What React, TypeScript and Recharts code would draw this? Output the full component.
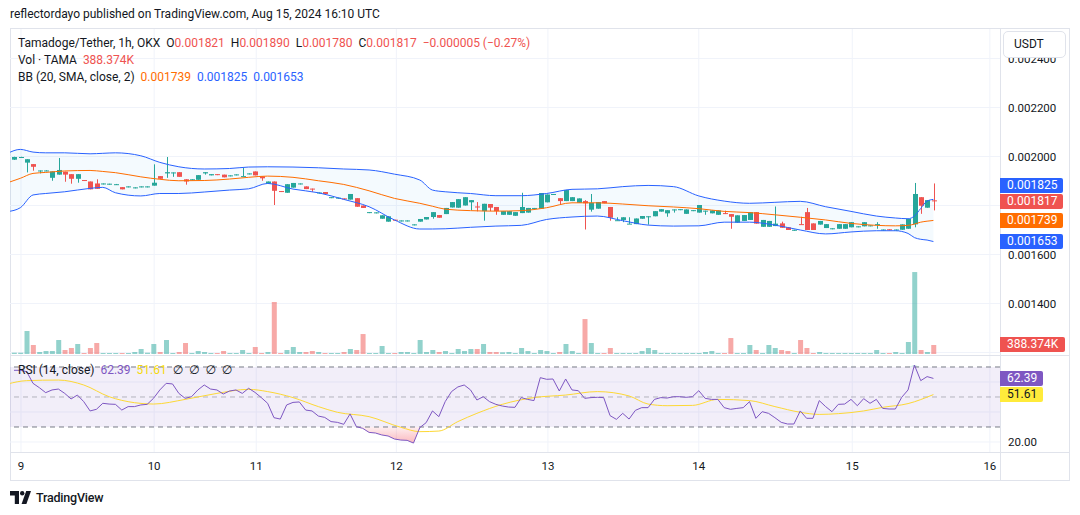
import {
  ComposedChart,
  Bar,
  Line,
  Area,
  Cell,
  XAxis,
  YAxis,
  CartesianGrid,
  ReferenceLine,
  ReferenceArea,
} from "recharts";

const FONT = "Roboto, 'Noto Sans', 'DejaVu Sans', sans-serif";
const TEXT = "#131722";
const UP = "#26a69a";
const DOWN = "#ef5350";
const VOL_UP = "rgba(38,166,154,0.5)";
const VOL_DOWN = "rgba(239,83,80,0.5)";
const BB_BAND = "#2962ff";
const BB_BASIS = "#ff6d00";
const RSI_COLOR = "#7e57c2";
const RSI_MA_COLOR = "#fdd835";
const GRID = "#f0f3fa";
const BORDER = "#e0e3eb";

// hourly candles [open, high, low, close], price in 1e-6 USDT
const ohlc: [number, number, number, number][] = [
  [1987, 1999, 1986, 1998], [1998, 1999, 1997, 1998], [1975, 1989, 1935, 1989], [1969, 1969, 1942, 1958],
  [1942, 1943, 1931, 1943], [1943, 1944, 1942, 1943], [1913, 1939, 1901, 1939], [1926, 1994, 1926, 1945],
  [1938, 1938, 1897, 1926], [1928, 1928, 1889, 1909], [1909, 1928, 1893, 1928], [1904, 1904, 1901, 1902],
  [1898, 1898, 1866, 1866], [1890, 1907, 1868, 1868], [1889, 1890, 1889, 1890], [1889, 1889, 1888, 1889],
  [1887, 1888, 1886, 1887], [1875, 1875, 1866, 1866], [1877, 1878, 1877, 1878], [1873, 1874, 1873, 1874],
  [1875, 1878, 1875, 1878], [1878, 1878, 1877, 1878], [1881, 1968, 1881, 1893], [1920, 1920, 1909, 1909],
  [1931, 1998, 1913, 1936], [1934, 1935, 1917, 1935], [1936, 1936, 1917, 1917], [1907, 1907, 1885, 1898],
  [1906, 1907, 1906, 1907], [1905, 1924, 1905, 1924], [1931, 1936, 1926, 1936], [1923, 1928, 1923, 1928],
  [1928, 1928, 1926, 1926], [1926, 1926, 1915, 1915], [1922, 1923, 1922, 1923], [1925, 1927, 1925, 1927],
  [1919, 1953, 1919, 1920], [1930, 1931, 1930, 1931], [1939, 1939, 1923, 1923], [1919, 1919, 1901, 1911],
  [1889, 1898, 1889, 1898], [1898, 1898, 1802, 1860], [1859, 1859, 1856, 1856], [1852, 1887, 1852, 1887],
  [1873, 1892, 1873, 1892], [1889, 1890, 1889, 1890], [1878, 1878, 1867, 1867], [1869, 1869, 1856, 1867],
  [1852, 1853, 1852, 1853], [1855, 1855, 1847, 1847], [1833, 1834, 1833, 1834], [1831, 1832, 1831, 1832],
  [1829, 1829, 1826, 1826], [1824, 1847, 1824, 1847], [1830, 1830, 1795, 1795], [1800, 1800, 1790, 1790],
  [1772, 1773, 1772, 1773], [1771, 1772, 1771, 1772], [1746, 1760, 1746, 1760], [1734, 1756, 1734, 1756],
  [1742, 1742, 1740, 1740], [1738, 1739, 1738, 1739], [1738, 1739, 1738, 1739], [1722, 1723, 1722, 1723],
  [1734, 1745, 1734, 1745], [1743, 1753, 1743, 1753], [1753, 1773, 1746, 1773], [1761, 1761, 1750, 1750],
  [1765, 1790, 1765, 1790], [1792, 1814, 1792, 1814], [1791, 1826, 1791, 1826], [1800, 1834, 1800, 1834],
  [1813, 1822, 1781, 1822], [1796, 1814, 1776, 1794], [1777, 1807, 1738, 1807], [1806, 1806, 1777, 1791],
  [1794, 1794, 1762, 1777], [1762, 1777, 1762, 1777], [1762, 1777, 1762, 1777], [1758, 1773, 1758, 1773],
  [1769, 1852, 1769, 1794], [1771, 1790, 1771, 1790], [1789, 1790, 1789, 1790], [1787, 1851, 1787, 1851],
  [1813, 1845, 1813, 1845], [1846, 1847, 1846, 1847], [1830, 1830, 1805, 1818], [1818, 1863, 1818, 1863],
  [1818, 1834, 1818, 1834], [1811, 1829, 1811, 1829], [1818, 1822, 1702, 1809], [1783, 1847, 1775, 1811],
  [1787, 1814, 1787, 1814], [1818, 1818, 1809, 1809], [1794, 1794, 1738, 1750], [1739, 1752, 1739, 1740],
  [1741, 1752, 1732, 1752], [1725, 1752, 1725, 1726], [1724, 1747, 1724, 1747], [1746, 1757, 1746, 1757],
  [1755, 1756, 1722, 1756], [1756, 1777, 1756, 1777], [1775, 1785, 1775, 1785], [1768, 1781, 1754, 1781],
  [1783, 1784, 1771, 1784], [1784, 1785, 1784, 1785], [1766, 1784, 1766, 1784], [1780, 1781, 1780, 1781],
  [1771, 1802, 1771, 1802], [1778, 1779, 1762, 1779], [1768, 1780, 1768, 1780], [1762, 1780, 1762, 1780],
  [1769, 1779, 1765, 1765], [1765, 1765, 1705, 1754], [1730, 1760, 1730, 1760], [1737, 1761, 1737, 1761],
  [1741, 1773, 1741, 1773], [1773, 1773, 1726, 1726], [1713, 1741, 1713, 1741], [1713, 1737, 1713, 1737],
  [1716, 1796, 1716, 1726], [1727, 1734, 1709, 1709], [1711, 1711, 1700, 1700], [1700, 1701, 1700, 1701],
  [1724, 1754, 1722, 1722], [1773, 1790, 1700, 1700], [1727, 1727, 1700, 1700], [1722, 1737, 1722, 1737],
  [1708, 1724, 1708, 1724], [1706, 1707, 1706, 1707], [1705, 1724, 1705, 1724], [1705, 1724, 1705, 1724],
  [1711, 1732, 1711, 1732], [1714, 1715, 1714, 1715], [1715, 1732, 1715, 1732], [1718, 1719, 1718, 1719],
  [1723, 1732, 1705, 1724], [1701, 1702, 1701, 1702], [1703, 1703, 1702, 1702], [1701, 1702, 1701, 1702],
  [1701, 1723, 1701, 1723], [1705, 1745, 1705, 1745], [1723, 1892, 1711, 1847], [1834, 1834, 1766, 1799],
  [1791, 1822, 1791, 1822], [1821, 1890, 1780, 1817],
];

// volume per candle, thousands of TAMA
const volumeK = [
  56, 56, 990, 388, 86, 129, 129, 602, 172, 258, 430, 43, 258, 473, 43, 43, 43, 43, 43, 86,
  215, 56, 430, 86, 602, 43, 86, 473, 43, 129, 86, 43, 43, 129, 43, 43, 172, 43, 301, 43,
  86, 2240, 43, 172, 301, 86, 86, 129, 86, 43, 43, 43, 86, 215, 172, 860, 43, 43, 344, 43,
  43, 86, 86, 43, 602, 86, 172, 86, 129, 43, 215, 129, 215, 215, 430, 86, 86, 73, 86, 43,
  258, 129, 43, 172, 129, 43, 86, 430, 129, 43, 1505, 473, 43, 43, 258, 43, 43, 43, 43, 129,
  258, 172, 43, 43, 43, 43, 43, 43, 43, 86, 129, 43, 43, 688, 43, 43, 388, 172, 43, 388,
  258, 172, 129, 43, 602, 258, 43, 86, 43, 43, 43, 43, 43, 43, 43, 43, 172, 43, 43, 86,
  43, 516, 3530, 172, 86, 388.374,
];

// RSI(14) per candle
const rsiValues = [
  67.8, 67.8, 66.9, 59.1, 56.2, 52.9, 54.7, 55.3, 52.4, 48.7, 51.3, 46.9, 40.7, 41.8, 45.8, 45.3,
  45.1, 41.3, 43.6, 43.6, 44.7, 45.1, 49.1, 54.7, 59.1, 58.7, 52.4, 49.1, 50.2, 54.7, 58.0, 55.3,
  54.7, 52.0, 54.0, 54.7, 52.4, 55.8, 53.1, 49.6, 45.8, 36.2, 35.3, 44.7, 46.4, 46.7, 41.3, 40.7,
  37.3, 36.4, 33.6, 33.1, 31.8, 38.7, 30.2, 29.1, 26.4, 26.0, 24.7, 24.0, 22.0, 21.3, 21.1, 19.3,
  29.6, 32.9, 40.7, 36.9, 46.9, 53.6, 56.7, 58.0, 54.7, 48.0, 50.2, 46.9, 45.1, 44.0, 43.3, 43.1,
  49.6, 48.4, 47.6, 62.9, 61.8, 62.0, 54.0, 62.0, 54.7, 54.2, 49.1, 49.6, 49.8, 49.6, 37.6, 35.1,
  39.1, 35.3, 41.1, 42.9, 42.9, 48.4, 49.6, 49.3, 50.2, 50.2, 49.8, 50.2, 54.2, 49.1, 48.4, 48.4,
  42.9, 41.8, 42.4, 42.9, 46.9, 35.8, 40.2, 39.1, 36.2, 33.1, 32.0, 32.0, 40.7, 35.8, 35.8, 47.6,
  43.6, 40.2, 45.1, 45.3, 48.4, 44.2, 48.9, 45.8, 48.4, 42.4, 42.0, 42.0, 49.8, 54.7, 71.3, 60.9,
  63.6, 62.39,
];

// Bollinger Bands (20, 2) read at these candle positions, price in 1e-6 USDT
const bbAt = [-1, 1, 3, 5, 8, 12, 14, 16, 20, 23, 26, 30, 34, 37, 40, 44, 48, 52, 56, 60, 64, 66, 68, 72, 76, 80, 84, 88, 92, 96, 100, 104, 108, 112, 116, 120, 124, 128, 132, 136, 139, 141, 142, 143, 144, 145];
const bbUpper = [2013, 2029, 2018, 2015, 2015, 2011, 2013, 2015, 2003, 1976, 1958, 1949, 1951, 1957, 1958, 1957, 1954, 1949, 1945, 1928, 1904, 1863, 1856, 1849, 1840, 1840, 1849, 1866, 1868, 1877, 1882, 1877, 1839, 1818, 1809, 1813, 1817, 1795, 1776, 1757, 1749, 1746, 1757, 1788, 1818, 1825];
const bbBasis = [1893, 1911, 1931, 1935, 1941, 1943, 1939, 1934, 1917, 1907, 1901, 1902, 1908, 1915, 1920, 1915, 1901, 1886, 1860, 1829, 1809, 1797, 1785, 1779, 1777, 1779, 1791, 1811, 1811, 1806, 1799, 1794, 1787, 1776, 1771, 1762, 1752, 1741, 1727, 1719, 1717, 1719, 1724, 1732, 1736, 1739];
const bbLower = [1775, 1791, 1843, 1849, 1856, 1870, 1874, 1852, 1839, 1849, 1849, 1855, 1863, 1868, 1890, 1867, 1852, 1825, 1795, 1741, 1704, 1704, 1705, 1711, 1716, 1719, 1743, 1753, 1757, 1738, 1720, 1716, 1717, 1732, 1732, 1720, 1700, 1684, 1692, 1697, 1697, 1686, 1669, 1662, 1659, 1653];

// RSI-based MA (14)
const rsiMaAt = [-1, 2, 7, 11, 15, 19, 22, 27, 32, 37, 40, 44, 48, 51, 56, 61, 64, 67, 70, 73, 77, 82, 87, 92, 97, 100, 103, 107, 111, 116, 120, 124, 127, 130, 134, 137, 141, 145];
const rsiMa = [58.7, 60.9, 61.3, 58.0, 50.2, 46.2, 45.3, 48.4, 52.4, 55.1, 53.6, 49.6, 43.6, 39.8, 36.9, 29.8, 26.9, 27.3, 33.6, 39.1, 45.1, 49.6, 51.3, 53.6, 50.7, 45.3, 44.2, 44.4, 48.4, 47.6, 43.6, 39.8, 38.4, 38.9, 40.7, 43.1, 45.6, 51.61];

const dayTicks = [1.1, 22.1, 38.2, 60.3, 84.2, 108, 132.2, 153.9];
const dayLabels = ["9", "10", "11", "12", "13", "14", "15", "16"];
// 0.001800 sits under the value labels, so it only gets a grid line
const priceTicks = [0.0014, 0.0016, 0.002, 0.0022, 0.0024];
const priceGrid = [0.0012, 0.0014, 0.0016, 0.0018, 0.002, 0.0022, 0.0024];

// layout
const LEFT = 10;
const PLOT_W = 990;
const AXIS_W = 70;
const MAIN_TOP = 29;
const MAIN_H = 326;
const VOL_H = 325;
const RSI_TOP = 356;
const RSI_H = 96;
const TIME_H = 29;
const X_DOMAIN: [number, number] = [-0.63, 155.5];
const PRICE_DOMAIN: [number, number] = [0.0011898, 0.00252041];
const RSI_DOMAIN: [number, number] = [13.333, 77.333];
const VOL_MAX = 14000;

const micro = (v: number) => v / 1e6;

const priceRows = new Map<number, any>();
const rowAt = (i: number) => {
  if (!priceRows.has(i)) priceRows.set(i, { i });
  return priceRows.get(i);
};
ohlc.forEach(([o, h, l, c], i) => {
  Object.assign(rowAt(i), { o: micro(o), h: micro(h), l: micro(l), c: micro(c), range: [micro(l), micro(h)] });
});
bbAt.forEach((i, k) => {
  Object.assign(rowAt(i), {
    bbUp: micro(bbUpper[k]),
    bbMid: micro(bbBasis[k]),
    bbLo: micro(bbLower[k]),
    band: [micro(bbLower[k]), micro(bbUpper[k])],
  });
});
const priceData = [...priceRows.values()].sort((a, b) => a.i - b.i);

const volData = volumeK.map((v, i) => ({ i, v, up: ohlc[i][3] >= ohlc[i][0] }));

const rsiRows = new Map<number, any>();
const rsiRowAt = (i: number) => {
  if (!rsiRows.has(i)) rsiRows.set(i, { i });
  return rsiRows.get(i);
};
rsiValues.forEach((v, i) => (rsiRowAt(i).rsi = v));
rsiMaAt.forEach((i, k) => (rsiRowAt(i).ma = rsiMa[k]));
const rsiData = [...rsiRows.values()].sort((a, b) => a.i - b.i);

const priceY = (p: number) =>
  MAIN_TOP + ((PRICE_DOMAIN[1] - p) / (PRICE_DOMAIN[1] - PRICE_DOMAIN[0])) * MAIN_H;
const rsiY = (v: number) => RSI_TOP + ((RSI_DOMAIN[1] - v) / (RSI_DOMAIN[1] - RSI_DOMAIN[0])) * RSI_H;
const volY = (v: number) => MAIN_TOP + VOL_H - (v / VOL_MAX) * VOL_H;

function Candle(props: any) {
  const { x, y, width, height, payload } = props;
  if (!payload || payload.o == null) return null;
  const { o, h, l, c } = payload;
  const color = c >= o ? UP : DOWN;
  const span = h - l;
  const toY = (p: number) => (span === 0 ? y : y + ((h - p) / span) * height);
  const top = toY(Math.max(o, c));
  const bottom = toY(Math.min(o, c));
  const cx = Math.round(x + width / 2) + 0.5;
  return (
    <g>
      <line x1={cx} x2={cx} y1={y} y2={y + Math.max(height, 1)} stroke={color} strokeWidth={1} />
      <rect x={cx - 2.5} y={top} width={5} height={Math.max(1, bottom - top)} fill={color} />
    </g>
  );
}

function Tag({ y, text, bg, color = "#fff", width = 63 }: any) {
  return (
    <div
      style={{
        position: "absolute",
        left: 1000,
        top: y - 7.5,
        width,
        height: 15,
        lineHeight: "15px",
        background: bg,
        color,
        fontSize: 12,
        paddingLeft: 7,
        boxSizing: "border-box",
        borderRadius: "0 2px 2px 0",
      }}
    >
      {text}
    </div>
  );
}

const last = ohlc[ohlc.length - 1];
const prev = ohlc[ohlc.length - 2];
const fmt = (v: number) => micro(v).toFixed(6);
const change = last[3] - prev[3];
const changePct = (change / prev[3]) * 100;
const minus = (s: string) => s.replace("-", "\u2212");

export default function App() {
  const lastIdx = bbAt.length - 1;
  const lastUp = last[3] >= last[0];
  const tagList = [
    { v: micro(bbLower[lastIdx]), bg: BB_BAND },
    { v: micro(bbBasis[lastIdx]), bg: BB_BASIS },
    { v: micro(last[3]), bg: lastUp ? UP : DOWN },
    { v: micro(bbUpper[lastIdx]), bg: BB_BAND },
  ];
  // stack price labels upward so they never overlap
  let prevY = Infinity;
  const placedTags = tagList.map((t) => {
    const y = Math.min(priceY(t.v), prevY - 16);
    prevY = y;
    return { ...t, y };
  });
  const lastVol = volumeK[volumeK.length - 1];
  const lastRsi = rsiValues[rsiValues.length - 1];
  const lastMa = rsiMa[rsiMa.length - 1];
  const legendColor = lastUp ? UP : DOWN;

  return (
    <div
      style={{
        position: "absolute",
        left: 0,
        top: 0,
        width: 1080,
        height: 515,
        background: "#fff",
        fontFamily: FONT,
        color: TEXT,
        overflow: "hidden",
      }}
    >
      <div style={{ position: "absolute", left: 10, top: 7, fontSize: 12, color: "#131722" }}>
        reflectordayo published on TradingView.com, Aug 15, 2024 16:10 UTC
      </div>

      {/* frame and pane separators */}
      <div style={{ position: "absolute", left: 10, top: 28, width: 1060, height: 453, border: `1px solid ${BORDER}`, boxSizing: "border-box" }} />
      <div style={{ position: "absolute", left: 10, top: 355, width: 1060, height: 1, background: BORDER }} />
      <div style={{ position: "absolute", left: 10, top: 452, width: 1060, height: 1, background: BORDER }} />
      <div style={{ position: "absolute", left: 1000, top: 28, width: 1, height: 453, background: BORDER }} />

      {/* price pane */}
      <div style={{ position: "absolute", left: LEFT, top: MAIN_TOP }}>
        <ComposedChart width={PLOT_W + AXIS_W} height={MAIN_H} data={priceData} margin={{ top: 0, right: 0, bottom: 0, left: 0 }}>
          <CartesianGrid stroke={GRID} horizontalValues={priceGrid} verticalValues={dayTicks} />
          <XAxis type="number" dataKey="i" domain={X_DOMAIN} allowDataOverflow hide />
          <YAxis
            orientation="right"
            type="number"
            domain={PRICE_DOMAIN}
            allowDataOverflow
            ticks={priceTicks}
            interval={0}
            width={AXIS_W}
            axisLine={false}
            tickLine={false}
            tickSize={0}
            tickMargin={8}
            tick={{ fontSize: 11.5, fill: TEXT, fontFamily: FONT }}
            tickFormatter={(v: number) => v.toFixed(6)}
          />
          <Area dataKey="band" type="monotone" connectNulls stroke="none" fill="#2196f3" fillOpacity={0.05} isAnimationActive={false} />
          <Line dataKey="bbUp" type="monotone" connectNulls dot={false} stroke={BB_BAND} strokeWidth={1} isAnimationActive={false} />
          <Line dataKey="bbLo" type="monotone" connectNulls dot={false} stroke={BB_BAND} strokeWidth={1} isAnimationActive={false} />
          <Line dataKey="bbMid" type="monotone" connectNulls dot={false} stroke={BB_BASIS} strokeWidth={1} isAnimationActive={false} />
          <Bar dataKey="range" barSize={5} shape={Candle} isAnimationActive={false} />
        </ComposedChart>
      </div>

      {/* volume overlay */}
      <div style={{ position: "absolute", left: LEFT, top: MAIN_TOP }}>
        <ComposedChart width={PLOT_W} height={VOL_H} data={volData} margin={{ top: 0, right: 0, bottom: 0, left: 0 }}>
          <XAxis type="number" dataKey="i" domain={X_DOMAIN} allowDataOverflow hide />
          <YAxis hide type="number" domain={[0, VOL_MAX]} allowDataOverflow />
          <Bar dataKey="v" barSize={5} isAnimationActive={false}>
            {volData.map((d) => (
              <Cell key={d.i} fill={d.up ? VOL_UP : VOL_DOWN} />
            ))}
          </Bar>
        </ComposedChart>
      </div>

      {/* RSI pane with time axis */}
      <div style={{ position: "absolute", left: LEFT, top: RSI_TOP }}>
        <ComposedChart width={PLOT_W + AXIS_W} height={RSI_H + TIME_H} data={rsiData} margin={{ top: 0, right: 0, bottom: 0, left: 0 }}>
          <defs>
            <linearGradient id="oversold" x1="0" y1="0" x2="0" y2="1">
              <stop offset="0%" stopColor="#f23645" stopOpacity={0.08} />
              <stop offset="100%" stopColor="#f23645" stopOpacity={0.35} />
            </linearGradient>
            <linearGradient id="overbought" x1="0" y1="1" x2="0" y2="0">
              <stop offset="0%" stopColor="#089981" stopOpacity={0.08} />
              <stop offset="100%" stopColor="#089981" stopOpacity={0.35} />
            </linearGradient>
          </defs>
          <CartesianGrid stroke={GRID} horizontalValues={[20, 40, 60]} verticalValues={dayTicks} />
          <ReferenceArea y1={30} y2={70} fill={RSI_COLOR} fillOpacity={0.1} stroke="none" />
          <XAxis
            type="number"
            dataKey="i"
            domain={X_DOMAIN}
            allowDataOverflow
            ticks={dayTicks}
            interval={0}
            height={TIME_H}
            axisLine={false}
            tickLine={false}
            tickSize={0}
            tickMargin={10}
            tick={{ fontSize: 11.5, fill: TEXT, fontFamily: FONT }}
            tickFormatter={(v: number) => dayLabels[dayTicks.indexOf(v)] ?? ""}
          />
          <YAxis
            orientation="right"
            type="number"
            domain={RSI_DOMAIN}
            allowDataOverflow
            ticks={[20]}
            interval={0}
            width={AXIS_W}
            axisLine={false}
            tickLine={false}
            tickSize={0}
            tickMargin={8}
            tick={{ fontSize: 11.5, fill: TEXT, fontFamily: FONT }}
            tickFormatter={(v: number) => v.toFixed(2)}
          />
          <ReferenceLine y={70} stroke="#787b86" strokeDasharray="5 4" />
          <ReferenceLine y={50} stroke="#787b86" strokeOpacity={0.5} strokeDasharray="5 4" />
          <ReferenceLine y={30} stroke="#787b86" strokeDasharray="5 4" />
          <Area
            dataKey={(d: any) => (d.rsi == null ? null : [Math.min(d.rsi, 30), 30])}
            type="linear"
            connectNulls
            stroke="none"
            fill="url(#oversold)"
            fillOpacity={1}
            isAnimationActive={false}
          />
          <Area
            dataKey={(d: any) => (d.rsi == null ? null : [70, Math.max(d.rsi, 70)])}
            type="linear"
            connectNulls
            stroke="none"
            fill="url(#overbought)"
            fillOpacity={1}
            isAnimationActive={false}
          />
          <Line dataKey="ma" type="monotone" connectNulls dot={false} stroke={RSI_MA_COLOR} strokeWidth={1} isAnimationActive={false} />
          <Line dataKey="rsi" type="linear" connectNulls dot={false} stroke={RSI_COLOR} strokeWidth={1} isAnimationActive={false} />
        </ComposedChart>
      </div>

      {/* legends */}
      <div style={{ position: "absolute", left: 18, top: 35, fontSize: 12, lineHeight: "17px", whiteSpace: "pre" }}>
        <div>
          Tamadoge/Tether, 1h, OKX{"  "}O<span style={{ color: legendColor }}>{fmt(last[0])}</span>{"  "}H
          <span style={{ color: legendColor }}>{fmt(last[1])}</span>{"  "}L
          <span style={{ color: legendColor }}>{fmt(last[2])}</span>{"  "}C
          <span style={{ color: legendColor }}>{fmt(last[3])}</span>{"  "}
          <span style={{ color: legendColor }}>
            {minus(micro(change).toFixed(6))} ({minus(changePct.toFixed(2))}%)
          </span>
        </div>
        <div>
          Vol · TAMA{"  "}<span style={{ color: legendColor }}>{lastVol.toFixed(3)}K</span>
        </div>
        <div>
          BB (20, SMA, close, 2){"  "}
          <span style={{ color: BB_BASIS }}>{fmt(bbBasis[lastIdx])}</span>{"  "}
          <span style={{ color: BB_BAND }}>{fmt(bbUpper[lastIdx])}</span>{"  "}
          <span style={{ color: BB_BAND }}>{fmt(bbLower[lastIdx])}</span>
        </div>
      </div>
      <div style={{ position: "absolute", left: 18, top: 363, fontSize: 12, lineHeight: "15px", whiteSpace: "pre" }}>
        RSI (14, close){"  "}
        <span style={{ color: RSI_COLOR }}>{lastRsi.toFixed(2)}</span>{"  "}
        <span style={{ color: "#f5d90a" }}>{lastMa.toFixed(2)}</span>{"  "}∅  ∅  ∅  ∅
      </div>

      {/* axis labels */}
      <div
        style={{
          position: "absolute",
          left: 1003,
          top: 31,
          width: 63,
          height: 27,
          border: `1px solid ${BORDER}`,
          borderRadius: 5,
          background: "#fff",
          boxSizing: "border-box",
          fontSize: 12,
          lineHeight: "25px",
          paddingLeft: 10,
        }}
      >
        USDT
      </div>
      {placedTags.map((t) => (
        <Tag key={t.v} y={t.y} bg={t.bg} text={t.v.toFixed(6)} />
      ))}
      <Tag y={volY(lastVol)} bg={legendColor} text={`${lastVol.toFixed(3)}K`} width={65} />
      <Tag y={rsiY(lastRsi)} bg={RSI_COLOR} text={lastRsi.toFixed(2)} width={43} />
      <Tag y={rsiY(lastMa)} bg="#ffeb3b" color={TEXT} text={lastMa.toFixed(2)} width={43} />

      {/* footer */}
      <div style={{ position: "absolute", left: 10, top: 490, display: "flex", alignItems: "center", gap: 4 }}>
        <svg width={22} height={13} viewBox="0 0 22 13">
          <path d="M0 0h9v13h-4.2v-8.6H0z" fill={TEXT} />
          <circle cx={12.2} cy={2.2} r={2.2} fill={TEXT} />
          <path d="M16.2 0H21l-4.6 13h-4.8z" fill={TEXT} />
        </svg>
        <span style={{ fontSize: 12.5, fontWeight: 500, color: TEXT, letterSpacing: -0.2 }}>TradingView</span>
      </div>
    </div>
  );
}
